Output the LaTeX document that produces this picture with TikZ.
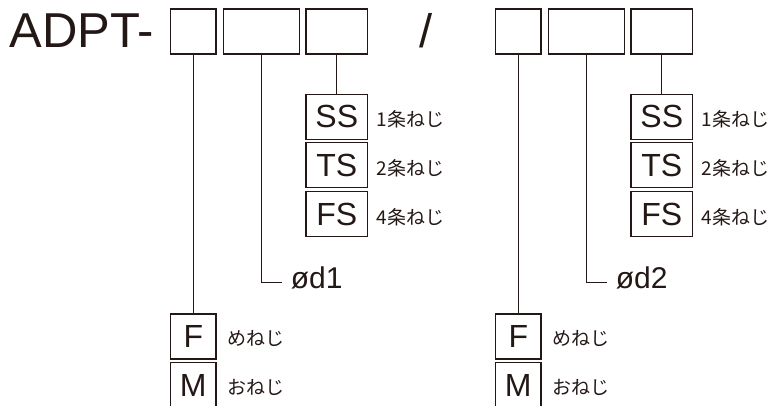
\documentclass[tikz,border=0pt]{standalone}
\usepackage{fontspec}
\setmainfont{Liberation Sans}
\newfontfamily\jpfont{Noto Sans CJK JP}
\usetikzlibrary{positioning,calc}
\definecolor{ink}{HTML}{231815}
\tikzset{
  slot/.style={draw=ink,line width=1.2pt,minimum height=45pt,inner sep=0pt},
  code/.style={slot,text=ink,font=\fontsize{32}{32}\selectfont},
  link/.style={draw=ink,line width=1pt},
  note/.style={anchor=west,inner sep=0pt,text=ink,font=\jpfont\fontsize{19}{19}\selectfont},
  dia/.style={anchor=base west,inner sep=0pt,text=ink,font=\fontsize{30}{30}\selectfont}
}

\begin{document}
\begin{tikzpicture}[x=1pt,y=-1pt]
  \useasboundingbox (0,0) rectangle (776,406);

  \node[anchor=base west,inner sep=0pt,text=ink,font=\fontsize{49}{49}\selectfont]
    (title) at (9.5,48) {ADPT-};
  \node[anchor=base,inner sep=0pt,text=ink,font=\fontsize{47}{47}\selectfont]
    (slash) at (426.5,48) {/};

  % one group per end: code slots, thread choice, size, gender
  \foreach \g/\dx/\dname in {1/0/ød1,2/325/ød2}{
    \begin{scope}[xshift=\dx pt]
      \node[slot,minimum width=45.5pt] (a\g) at (193.3,31.5) {};
      \node[slot,minimum width=76pt] (b\g) at (261.3,31.5) {};
      \node[slot,minimum width=61.5pt] (c\g) at (336.8,31.5) {};

      \node[code,minimum width=61.5pt,below=39pt of c\g] (ss\g) {SS};
      \node[code,minimum width=61.5pt,below=2.5pt of ss\g] (ts\g) {TS};
      \node[code,minimum width=61.5pt,below=2.5pt of ts\g] (fs\g) {FS};
      \node[note] at ($(ss\g.east)+(8.5,3)$) {1条ねじ};
      \node[note] at ($(ts\g.east)+(8.5,3)$) {2条ねじ};
      \node[note] at ($(fs\g.east)+(8.5,3)$) {4条ねじ};

      \node[code,minimum width=45.5pt,below=258.8pt of a\g] (f\g) {F};
      \node[code,minimum width=45.5pt,below=2.5pt of f\g] (m\g) {M};
      \node[note] at ($(f\g.east)+(11,2)$) {めねじ};
      \node[note] at ($(m\g.east)+(11,2)$) {おねじ};

      \coordinate (d\g end) at (281.7,282.3);
      \node[dia] (d\g) at ($(d\g end)+(9,5.7)$) {\dname};

      \draw[link] (c\g.south) -- (ss\g.north);
      \draw[link] (a\g.south) -- (f\g.north);
      \draw[link] (b\g.south) |- (d\g end);
    \end{scope}
  }
\end{tikzpicture}
\end{document}
